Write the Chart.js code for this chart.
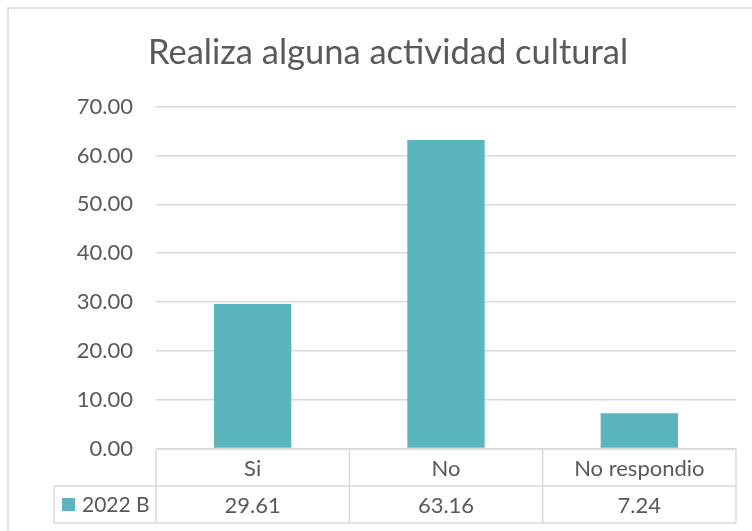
<!DOCTYPE html>
<html>
<head>
<meta charset="utf-8">
<script src="https://cdn.jsdelivr.net/npm/chart.js@4.4.1/dist/chart.umd.min.js"></script>
<style>
  html, body { margin: 0; padding: 0; background: #fff; }
  #wrap { width: 752px; height: 531px; position: relative; }
</style>
</head>
<body>
<div id="wrap"><canvas id="chart" width="752" height="531"></canvas></div>
<script>
// data
const categories = ['Si', 'No', 'No respondio'];
const seriesName = '2022 B';
const seriesValues = [29.61, 63.16, 7.24];
const chartTitle = 'Realiza alguna actividad cultural';

const textColor = '#595959';
const lineColor = '#D9D9D9';
const barColor = '#5BB5BF';
const fontFamily = 'Lato, "Open Sans", sans-serif';

// draws the frame and the data table under the plot
const dataTablePlugin = {
  id: 'dataTable',
  beforeDraw(chart) {
    const ctx = chart.ctx;
    ctx.save();
    ctx.strokeStyle = lineColor;
    ctx.lineWidth = 1.5;
    ctx.strokeRect(8, 8, 800, 600);
    ctx.restore();
  },
  afterDraw(chart) {
    const ctx = chart.ctx;
    const area = chart.chartArea;
    const x = chart.scales.x;
    const rowH = 37;
    const top = area.bottom + 0.5;
    const mid = top + rowH;
    const bottom = mid + rowH;
    const legendLeft = 54;
    const colW = (area.right - area.left) / categories.length;

    ctx.save();
    ctx.strokeStyle = lineColor;
    ctx.lineWidth = 1.5;
    ctx.beginPath();
    // horizontal lines
    ctx.moveTo(area.left, top); ctx.lineTo(area.right, top);
    ctx.moveTo(legendLeft, mid); ctx.lineTo(area.right, mid);
    ctx.moveTo(legendLeft, bottom); ctx.lineTo(area.right, bottom);
    // vertical lines
    ctx.moveTo(legendLeft, mid); ctx.lineTo(legendLeft, bottom);
    for (let i = 0; i <= categories.length; i++) {
      const vx = area.left + i * colW;
      ctx.moveTo(vx, top); ctx.lineTo(vx, bottom);
    }
    ctx.stroke();

    ctx.fillStyle = textColor;
    ctx.font = '22px ' + fontFamily;
    ctx.textAlign = 'center';
    ctx.textBaseline = 'middle';
    categories.forEach((c, i) => {
      const cx = x.getPixelForValue(i);
      ctx.fillText(c, cx, top + rowH / 2 + 1);
      ctx.fillText(seriesValues[i].toFixed(2), cx, mid + rowH / 2 + 1);
    });

    // legend key
    ctx.fillStyle = barColor;
    ctx.fillRect(62, mid + 12, 13, 13);
    ctx.fillStyle = textColor;
    ctx.textAlign = 'left';
    ctx.font = '21px ' + fontFamily;
    ctx.fillText(seriesName, 82, mid + rowH / 2 + 1);
    ctx.restore();
  }
};

new Chart(document.getElementById('chart'), {
  type: 'bar',
  data: {
    labels: categories,
    datasets: [{
      label: seriesName,
      data: seriesValues,
      backgroundColor: barColor,
      barPercentage: 0.4,
      categoryPercentage: 1.0
    }]
  },
  options: {
    responsive: false,
    animation: false,
    layout: {
      padding: { left: 40, right: 16, top: 0, bottom: 82.5 }
    },
    plugins: {
      legend: { display: false },
      tooltip: { enabled: false },
      title: {
        display: true,
        text: chartTitle,
        color: textColor,
        font: { family: fontFamily, size: 34.5, weight: 'normal' },
        padding: { top: 32.3, bottom: 33.0 }
      }
    },
    scales: {
      x: {
        display: false
      },
      y: {
        min: 0,
        max: 70,
        ticks: {
          stepSize: 10,
          padding: 23,
          color: textColor,
          font: { family: fontFamily, size: 22 },
          callback: (v) => v.toFixed(2)
        },
        grid: { color: lineColor, lineWidth: 1.5, drawTicks: false },
        border: { display: false },
        afterFit: (scale) => { scale.width = 116; }
      }
    }
  },
  plugins: [dataTablePlugin]
});
</script>
</body>
</html>
